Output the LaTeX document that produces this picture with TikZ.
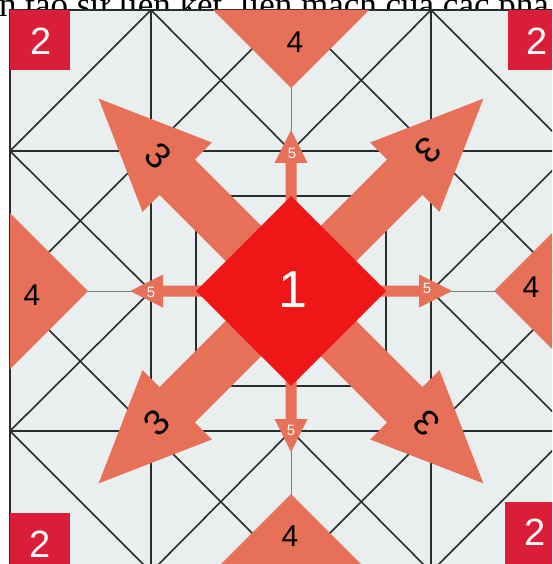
\documentclass[tikz,border=0pt]{standalone}
\usepackage{fontspec}
\setmainfont{Liberation Sans}
\newfontfamily\serifvn{Liberation Serif}
\begin{document}
\begin{tikzpicture}[x=1pt,y=-1pt]
\definecolor{boardc}{RGB}{233,238,238}
\definecolor{linec}{RGB}{40,46,46}
\definecolor{midc}{RGB}{120,125,125}
\definecolor{redtwo}{RGB}{218,30,55}
\definecolor{salmon}{RGB}{230,112,88}
\definecolor{redone}{RGB}{238,22,22}
\tikzset{
  gridline/.style={draw=linec, line width=1.6pt},
  centreline/.style={draw=midc, line width=1pt},
  lbltwo/.style={text=white, inner sep=0pt, font=\fontsize{38}{38}\selectfont},
  lblfour/.style={text=black, inner sep=0pt, font=\fontsize{30}{30}\selectfont},
  lblthree/.style={text=black, inner sep=0pt, font=\fontsize{36}{36}\selectfont},
  lblfive/.style={text=white, inner sep=0pt, font=\fontsize{15}{15}\selectfont},
  lblone/.style={text=white, inner sep=0pt, font=\fontsize{52}{52}\selectfont},
}
\useasboundingbox (0,0) rectangle (552,564);
\clip (0,0) rectangle (552,564);
\fill[white] (0,0) rectangle (552,564);
% cut-off caption line
\node[anchor=base west, inner sep=0pt, font=\serifvn\fontsize{35}{35}\selectfont] (caption) at (-1,17) {n tạo sự liên kết, liên mạch của các phầ};
% board
\fill[boardc] (10,10) rectangle (572,572);
\path[centreline] (291,10) -- (291,572) (10,291) -- (572,291);
\path[gridline] (10,10) rectangle (572,572);
\path[gridline] (151,10) -- (151,572) (431,10) -- (431,572)
                (10,151) -- (572,151) (10,431) -- (572,431);
\path[gridline] (196,196) rectangle (386,386);
\path[gridline] (151,291) -- (10,151) -- (151,10) -- (291,151) -- (431,10) -- (572,151)
                -- (431,291) -- (572,431) -- (431,572) -- (291,431) -- (151,572) -- (10,431) -- cycle;
\path[gridline] (291,10) -- (572,291) -- (291,572) -- (10,291) -- cycle;
% corner squares 2
\fill[redtwo] (10,10) rectangle (70,70);
\fill[redtwo] (508,10) rectangle (570,70);
\fill[redtwo] (10,513) rectangle (70,575);
\fill[redtwo] (505,502) rectangle (567,564);
\node[lbltwo] (twotl) at (41,41) {2};
\node[lbltwo] (twotr) at (537,41) {2};
\node[lbltwo] (twobl) at (40,544) {2};
\node[lbltwo] (twobr) at (535,532) {2};
% triangles 4
\fill[salmon] (213,10) -- (369,10) -- (291,88) -- cycle;
\fill[salmon] (10,213) -- (10,369) -- (88,291) -- cycle;
\fill[salmon] (572,213) -- (572,369) -- (494,291) -- cycle;
\fill[salmon] (213,572) -- (369,572) -- (291,494) -- cycle;
\node[lblfour] (fourt) at (295,42) {4};
\node[lblfour] (fourl) at (32,295) {4};
\node[lblfour] (fourr) at (531,287) {4};
\node[lblfour] (fourb) at (290,536) {4};
% big arrows 3
\foreach \a/\n in {45/ur,135/ul,225/dl,315/dr}{
  \begin{scope}[shift={(291,291)}, rotate=\a]
    \fill[salmon] (0,-25) -- (161,-25) -- (161,-49) -- (272,0) -- (161,49) -- (161,25) -- (0,25) -- cycle;
  \end{scope}
}
% small arrows 5
\foreach \a in {0,90,180,270}{
  \begin{scope}[shift={(291,291)}, rotate=\a]
    \fill[salmon] (0,-5.5) -- (128,-5.5) -- (128,-16.5) -- (161,0) -- (128,16.5) -- (128,5.5) -- (0,5.5) -- cycle;
  \end{scope}
}
% diamond 1
\fill[redone] (291,196) -- (386,291) -- (291,386) -- (196,291) -- cycle;
\node[lblone] (one) at (293,290) {1};
% labels 3
\node[lblthree, rotate=-45] (threeul) at (158,156) {3};
\node[lblthree, rotate=-135] (threeur) at (428,150) {3};
\node[lblthree, rotate=45] (threedl) at (157,423) {3};
\node[lblthree, rotate=135] (threedr) at (427,423) {3};
% labels 5
\node[lblfive] (fivet) at (292,153) {5};
\node[lblfive] (fivel) at (151,292) {5};
\node[lblfive] (fiver) at (427,288) {5};
\node[lblfive] (fiveb) at (291,430) {5};
\end{tikzpicture}
\end{document}
